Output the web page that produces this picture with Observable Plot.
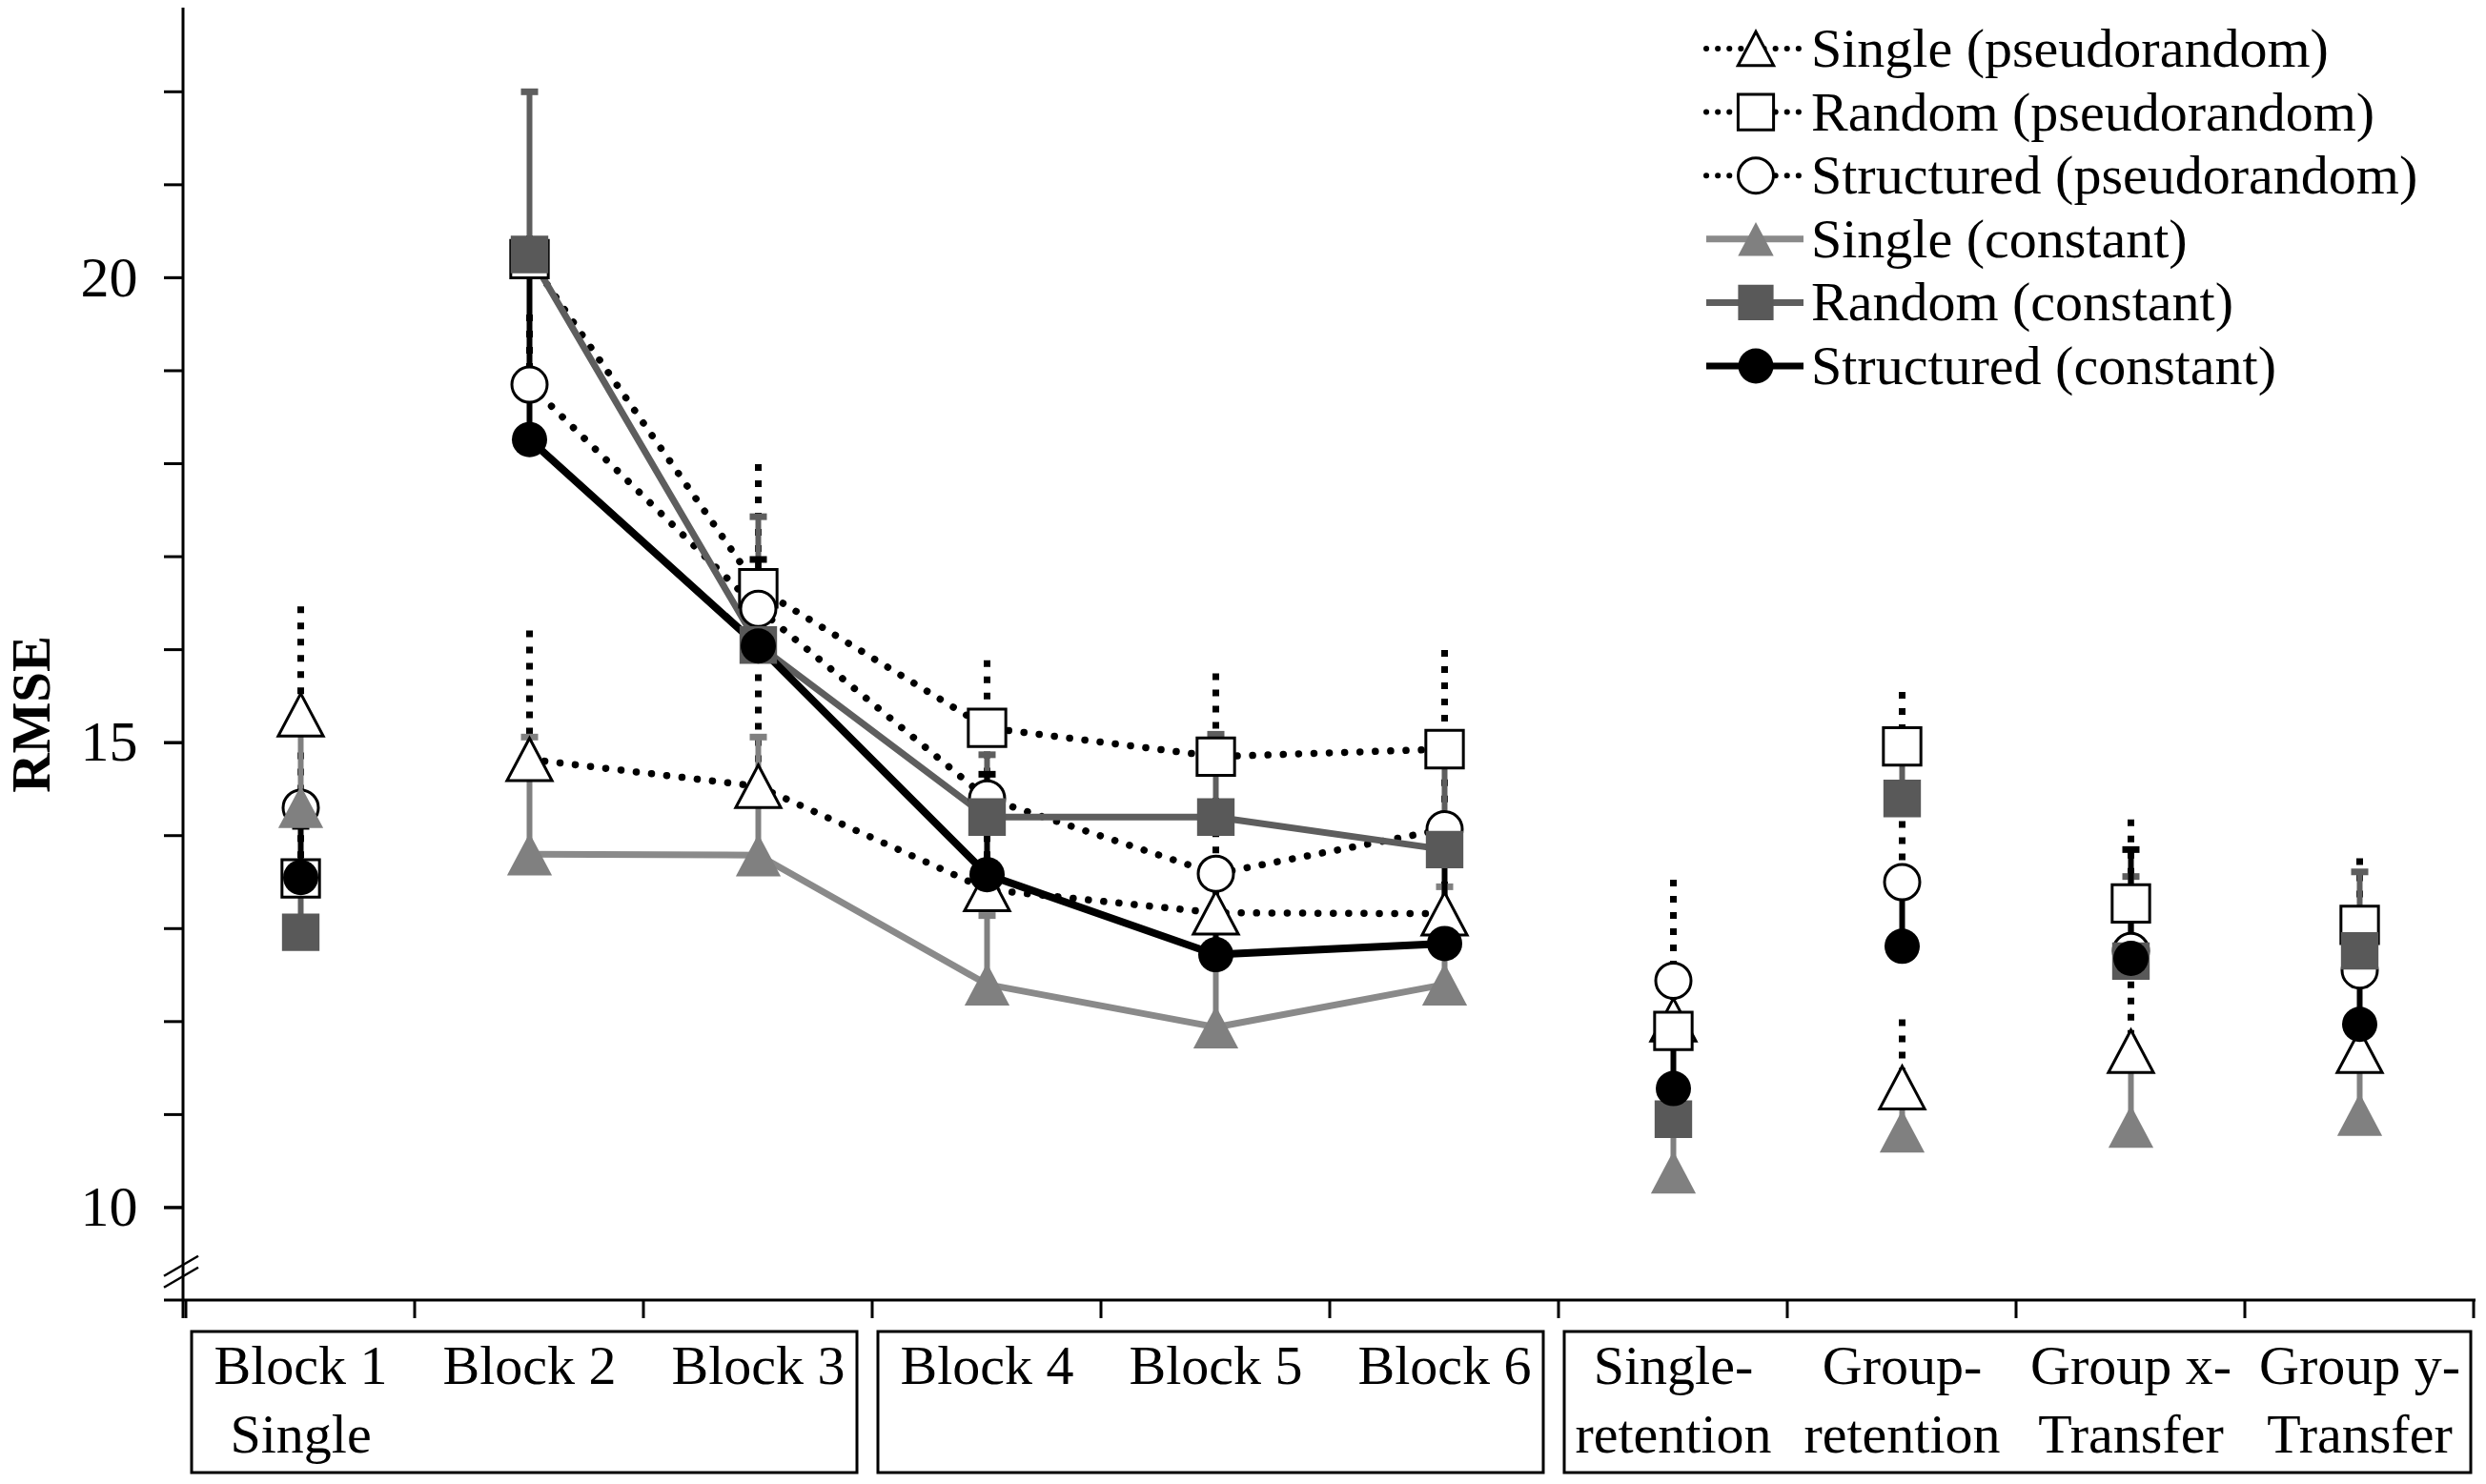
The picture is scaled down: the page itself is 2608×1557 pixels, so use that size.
<!DOCTYPE html>
<html>
<head>
<meta charset="utf-8">
<script src="https://cdn.jsdelivr.net/npm/d3@7"></script>
<script src="https://cdn.jsdelivr.net/npm/@observablehq/plot@0.6"></script>
<style>
  html, body { margin: 0; padding: 0; background: #fff; }
  #chart { width: 2608px; height: 1557px; }
</style>
</head>
<body>
<div id="chart"></div>
<script>
// ---------- data ----------
const categories = ["Block 1\nSingle", "Block 2", "Block 3", "Block 4", "Block 5", "Block 6",
  "Single-\nretention", "Group-\nretention", "Group x-\nTransfer", "Group y-\nTransfer"];
const connectedCategories = ["Block 2", "Block 3", "Block 4", "Block 5", "Block 6"];
const boxGroups = [["Block 1\nSingle", "Block 3"], ["Block 4", "Block 6"], ["Single-\nretention", "Group y-\nTransfer"]];

const seriesNames = ["Single (pseudorandom)", "Random (pseudorandom)", "Structured (pseudorandom)",
  "Single (constant)", "Random (constant)", "Structured (constant)"];

const singlePseudo      = [15.30, 14.82, 14.53, 13.42, 13.17, 13.16, 12.02, 11.29, 11.68, 11.68];
const singlePseudoUpper = [16.46, 16.20, 15.73, 14.00, 13.60, 13.50, 12.30, 12.02, 12.60, 12.00];
const randomPseudo      = [13.54, 20.20, 16.66, 15.16, 14.85, 14.93, 11.90, 14.96, 13.27, 13.04];
const randomPseudoUpper = [14.00, 20.45, 17.99, 15.88, 15.74, 15.99, 12.20, 15.54, 14.17, 13.75];
const structPseudo      = [14.30, 18.85, 16.44, 14.40, 13.59, 14.07, 12.44, 13.50, 12.76, 12.55];
const structPseudoUpper = [14.89, 19.60, 16.90, 14.90, 14.40, 14.60, 13.52, 14.50, 13.30, 12.90];
const singleConst       = [14.31, 13.80, 13.79, 12.40, 11.94, 12.40, 10.38, 10.82, 10.87, 11.00];
const singleConstUpper  = [15.10, 15.06, 15.06, 13.14, 12.70, 13.45, 10.90, 11.20, 11.55, 11.60];
const randomConst       = [12.96, 20.25, 16.05, 14.20, 14.20, 13.85, 10.95, 14.40, 12.65, 12.76];
const randomConstUpper  = [13.50, 22.00, 17.43, 14.87, 15.09, 14.85, 11.30, 14.90, 13.56, 13.61];
const structConst       = [13.55, 18.26, 16.04, 13.58, 12.72, 12.84, 11.28, 12.81, 12.68, 11.97];
const structConstUpper  = [14.10, 20.10, 16.97, 14.66, 13.10, 13.75, 11.90, 13.40, 13.85, 12.40];

const yMajorTicks = [10, 15, 20];
const yMinorTicks = [10, 11, 12, 13, 14, 15, 16, 17, 18, 19, 20, 21, 22];
const yDomain = [9, 22.9];
const yBreakValue = 9.3;
const yLabel = "RMSE";
const yLabelAt = 15.3;

// ---------- symbols ----------
const triangleBox = { draw(c, size) { const a = Math.sqrt(size); const w = a * 0.72, h = a * 0.68;
  c.moveTo(0, -h); c.lineTo(w, h); c.lineTo(-w, h); c.closePath(); } };
const squareBox = { draw(c, size) { const a = Math.sqrt(size) * 0.6;
  c.moveTo(-a, -a); c.lineTo(a, -a); c.lineTo(a, a); c.lineTo(-a, a); c.closePath(); } };
const circleSym = d3.symbolCircle;
const capSym = { draw(c) { c.moveTo(-9, 0); c.lineTo(9, 0); } };

// ---------- styles ----------
const styles = [
  { mean: singlePseudo, upper: singlePseudoUpper, symbol: triangleBox, fill: "white", stroke: "black", line: "black", bar: "black", dotted: true },
  { mean: randomPseudo, upper: randomPseudoUpper, symbol: squareBox, fill: "white", stroke: "black", line: "black", bar: "black", dotted: true },
  { mean: structPseudo, upper: structPseudoUpper, symbol: circleSym, fill: "white", stroke: "black", line: "black", bar: "black", dotted: true },
  { mean: singleConst, upper: singleConstUpper, symbol: triangleBox, fill: "#808080", stroke: "none", line: "#8a8a8a", bar: "#808080", dotted: false, lw: 7 },
  { mean: randomConst, upper: randomConstUpper, symbol: squareBox, fill: "#595959", stroke: "none", line: "#5e5e5e", bar: "#5e5e5e", dotted: false, lw: 7 },
  { mean: structConst, upper: structConstUpper, symbol: circleSym, fill: "black", stroke: "none", line: "black", bar: "black", dotted: false, lw: 8 }
];

const tables = styles.map((s, si) => categories.map((cat, i) => ({
  series: seriesNames[si], cat, mean: s.mean[i], upper: s.upper[i]
})));

const FONT = "'Liberation Serif', 'Times New Roman', serif";
const marks = [];
// error bars
styles.forEach((s, si) => {
  marks.push(Plot.ruleX(tables[si], {
    x: "cat", y1: "upper", y2: "mean", stroke: s.bar,
    strokeWidth: s.dotted ? 7 : 6,
    ...(s.dotted ? { strokeDasharray: "7,10" } : {})
  }));
  if (!s.dotted) {
    marks.push(Plot.dot(tables[si], { x: "cat", y: "upper", symbol: capSym, r: 10, stroke: s.bar, fill: "none", strokeWidth: 7 }));
  }
});
// lines
styles.forEach((s, si) => {
  marks.push(Plot.line(tables[si].filter(d => connectedCategories.includes(d.cat)), {
    x: "cat", y: "mean", stroke: s.line,
    strokeWidth: s.dotted ? 7.5 : s.lw,
    strokeLinecap: "round", strokeLinejoin: "round",
    ...(s.dotted ? { strokeDasharray: "0.1,16" } : {})
  }));
});
// markers
styles.forEach((s, si) => {
  marks.push(Plot.dot(tables[si], {
    x: "cat", y: "mean", symbol: s.symbol, r: 18.5,
    fill: s.fill, stroke: s.stroke, strokeWidth: 3
  }));
});
// axes
marks.push(Plot.axisY({ ticks: yMinorTicks, tickSize: 20, tickFormat: () => "", strokeWidth: 3, label: null }));
marks.push(Plot.axisY({ ticks: yMajorTicks, tickSize: 20, tickPadding: 28, fontSize: 60, strokeWidth: 3, label: null, fill: "black" }));
marks.push(Plot.axisX({ tickSize: 0, tickPadding: 36, fontSize: 58, lineHeight: 1.25, label: null, fill: "black" }));

const chart = Plot.plot({
  width: 2608, height: 1557,
  marginLeft: 192, marginRight: 11, marginTop: 8, marginBottom: 193,
  x: { type: "band", domain: categories, padding: 0, label: null },
  y: { domain: yDomain, label: null },
  style: { fontFamily: FONT, color: "black", background: "white", overflow: "visible" },
  marks
});
document.getElementById("chart").appendChild(chart);

// ---------- decorations through the scales ----------
const svg = d3.select(chart);
const xs = chart.scale("x"), ys = chart.scale("y");
const bw = xs.bandwidth;
const xL = xs.range[0], xR = xs.range[1];
const yB = ys.apply(yDomain[0]), yT = ys.apply(yDomain[1]);
const deco = svg.append("g").attr("stroke", "black").attr("fill", "none");
// axis lines
deco.append("line").attr("x1", xL).attr("x2", xL).attr("y1", yT).attr("y2", yB + 19).attr("stroke-width", 3);
deco.append("line").attr("x1", xL - 20).attr("x2", xR).attr("y1", yB).attr("y2", yB).attr("stroke-width", 3);
// category boundary ticks
const bounds = categories.map(c => xs.apply(c)).concat([xs.apply(categories[categories.length - 1]) + bw]);
bounds.forEach(bx => deco.append("line").attr("x1", bx).attr("x2", bx).attr("y1", yB).attr("y2", yB + 19).attr("stroke-width", 3));
// axis break marks
const yBr = ys.apply(yBreakValue);
[-6, 6].forEach(off => deco.append("line")
  .attr("x1", xL - 20).attr("y1", yBr + off + 10).attr("x2", xL + 16).attr("y2", yBr + off - 11)
  .attr("stroke-width", 2.5));
// group boxes
boxGroups.forEach(([a, b], gi) => {
  const left = xs.apply(a) + 6;
  const right = xs.apply(b) + bw - (gi === boxGroups.length - 1 ? 3 : 16);
  deco.append("rect").attr("x", left).attr("y", yB + 33).attr("width", right - left).attr("height", 148)
    .attr("stroke-width", 3);
});
// y label
svg.append("text").attr("transform", `translate(52,${ys.apply(yLabelAt)}) rotate(-90)`)
  .attr("text-anchor", "middle").attr("font-family", FONT).attr("font-weight", "bold")
  .attr("font-size", 57).attr("fill", "black").text(yLabel);

// ---------- legend ----------
const leg = svg.append("g").attr("font-family", FONT).attr("font-size", 58).attr("fill", "black")
  .attr("text-anchor", "start");
const legSizes = [676, 961, 1075, 676, 961, 1075];
styles.forEach((s, i) => {
  const cy = 51 + i * 66.6;
  const g = leg.append("g");
  const ln = g.append("line").attr("x1", 1790).attr("x2", 1892).attr("y1", cy).attr("y2", cy)
    .attr("stroke", s.line).attr("stroke-width", s.dotted ? 6 : 7);
  if (s.dotted) ln.attr("stroke-dasharray", "0.1,12").attr("stroke-linecap", "round");
  g.append("path").attr("d", d3.symbol(s.symbol, legSizes[i])())
    .attr("transform", `translate(1842,${cy})`)
    .attr("fill", s.fill).attr("stroke", s.stroke).attr("stroke-width", 3);
  g.append("text").attr("x", 1900).attr("y", cy + 19).attr("text-anchor", "start").text(seriesNames[i]);
});
</script>
</body>
</html>
